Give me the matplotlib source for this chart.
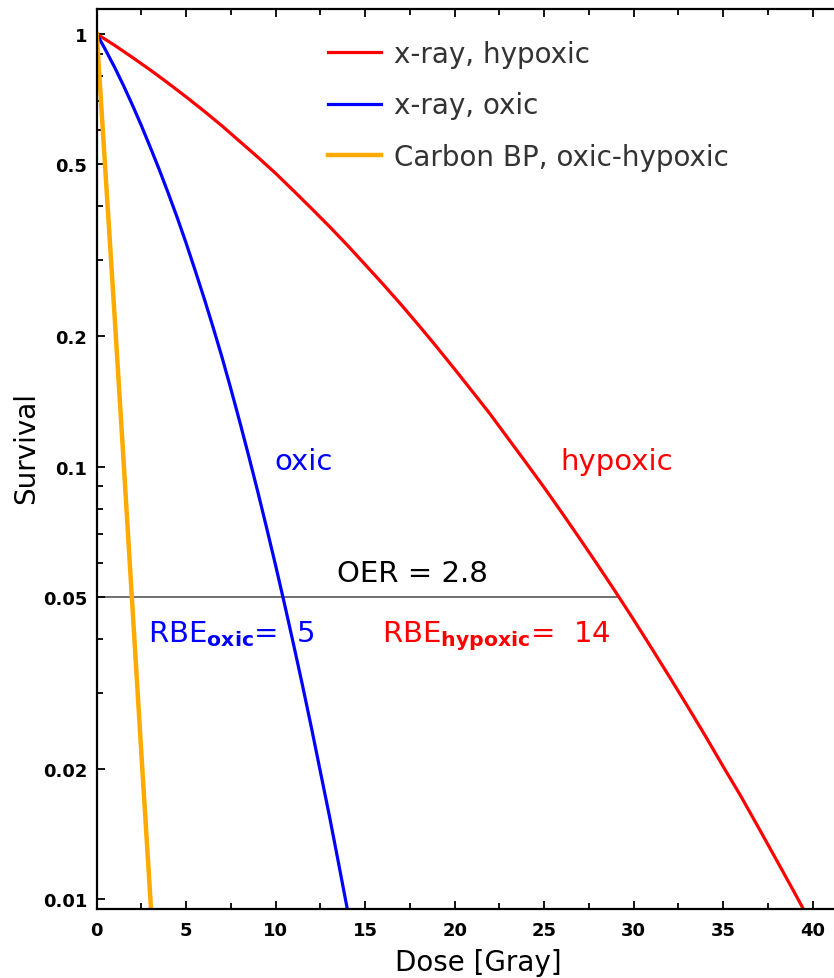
import matplotlib
matplotlib.use("Agg")
import matplotlib.pyplot as plt
from matplotlib.ticker import FixedLocator, NullFormatter, FixedFormatter

# survival curves
dose_hypoxic = [0, 1, 2, 3, 4, 5, 6, 7, 8, 9, 10, 11, 12, 13, 14, 15, 16, 17, 18, 19, 20,
                21, 22, 23, 24, 25, 26, 27, 28, 29, 30, 31, 32, 33, 34, 35, 36, 37, 38, 39, 40]
surv_hypoxic = [1.0, 0.941, 0.882, 0.825, 0.769, 0.715, 0.663, 0.613, 0.564, 0.519, 0.476,
                0.434, 0.395, 0.359, 0.325, 0.293, 0.264, 0.237, 0.212, 0.189, 0.168,
                0.149, 0.132, 0.116, 0.102, 0.0895, 0.0782, 0.0681, 0.0592, 0.0513, 0.0443,
                0.0381, 0.0327, 0.028, 0.0239, 0.0203, 0.0173, 0.0146, 0.0123, 0.01035, 0.00868]

dose_oxic = [0, 0.5, 1, 1.5, 2, 2.5, 3, 3.5, 4, 4.5, 5, 5.5, 6, 6.5, 7, 7.5, 8, 8.5,
             9, 9.5, 10, 10.5, 11, 11.5, 12, 12.5, 13, 13.5, 14]
surv_oxic = [1.0, 0.917, 0.837, 0.759, 0.684, 0.613, 0.546, 0.485, 0.428, 0.376, 0.328,
             0.284, 0.245, 0.21, 0.179, 0.151, 0.1266, 0.1055, 0.0875, 0.072, 0.059,
             0.048, 0.0388, 0.0312, 0.0249, 0.0197, 0.0156, 0.0122, 0.00951]

dose_carbon = [0, 0.5, 1, 1.5, 2, 2.5, 3, 3.5]
surv_carbon = [1.0, 0.47, 0.222, 0.103, 0.047, 0.0215, 0.0100, 0.0046]

# OER reference line at 5% survival
oer_dose = [0, 29.1]
oer_surv = [0.05, 0.05]

y_major = [0.01, 0.02, 0.05, 0.1, 0.2, 0.5, 1]
y_major_labels = ["0.01", "0.02", "0.05", "0.1", "0.2", "0.5", "1"]
y_minor = [0.03, 0.04, 0.06, 0.07, 0.08, 0.09, 0.3, 0.4, 0.6, 0.7, 0.8, 0.9]
x_major = [0, 5, 10, 15, 20, 25, 30, 35, 40]
x_minor = [2.5, 7.5, 12.5, 17.5, 22.5, 27.5, 32.5, 37.5]

fig = plt.figure(figsize=(8.34, 9.79), dpi=100)
ax = fig.add_axes([0.116, 0.0705, 0.884, 0.919])

ax.plot(oer_dose, oer_surv, color="#555555", lw=1.2, zorder=1)
ax.plot(dose_hypoxic, surv_hypoxic, color="#ff0000", lw=2.3, label="x-ray, hypoxic")
ax.plot(dose_oxic, surv_oxic, color="#0000ff", lw=2.3, label="x-ray, oxic")
ax.plot(dose_carbon, surv_carbon, color="#ffaa00", lw=3.2, label="Carbon BP, oxic-hypoxic")

ax.set_yscale("log")
ax.set_xlim(0, 41.2)
ax.set_ylim(0.0095, 1.14)

ax.yaxis.set_major_locator(FixedLocator(y_major))
ax.yaxis.set_major_formatter(FixedFormatter(y_major_labels))
ax.yaxis.set_minor_locator(FixedLocator(y_minor))
ax.yaxis.set_minor_formatter(NullFormatter())
ax.xaxis.set_major_locator(FixedLocator(x_major))
ax.xaxis.set_minor_locator(FixedLocator(x_minor))

ax.tick_params(which="both", direction="in", top=True, right=False, width=1.3)
ax.tick_params(which="major", length=6)
ax.tick_params(which="minor", length=4)
ax.tick_params(axis="y", pad=7)
ax.tick_params(axis="x", pad=9)
for lab in ax.get_xticklabels() + ax.get_yticklabels():
    lab.set_fontweight("bold")
    lab.set_fontsize(13)

for side in ["left", "bottom", "top"]:
    ax.spines[side].set_linewidth(1.6)
ax.spines["right"].set_visible(False)

ax.set_xlabel("Dose [Gray]", fontsize=20)
ax.set_ylabel("Survival", fontsize=20)
ax.xaxis.set_label_coords(0.517, -0.043)
ax.yaxis.set_label_coords(-0.077, 0.513)

ax.text(9.95, 0.0989, "oxic", color="#0000ff", fontsize=21)
ax.text(25.9, 0.099, "hypoxic", color="#ff0000", fontsize=21)
ax.text(13.4, 0.0543, "OER = 2.8", color="black", fontsize=21)
ax.text(2.86, 0.0396, r"RBE$_{\mathbf{oxic}}$=  5", color="#0000ff", fontsize=21)
ax.text(15.94, 0.0396, r"RBE$_{\mathbf{hypoxic}}$=  14", color="#ff0000", fontsize=21)

leg = ax.legend(loc="upper left", bbox_to_anchor=(0.314, 0.966), frameon=False,
                fontsize=20, borderpad=0, borderaxespad=0, handlelength=1.9,
                handletextpad=0.45, labelspacing=0.85)
for t in leg.get_texts():
    t.set_color("#333333")

plt.savefig("out.png", dpi=100)
